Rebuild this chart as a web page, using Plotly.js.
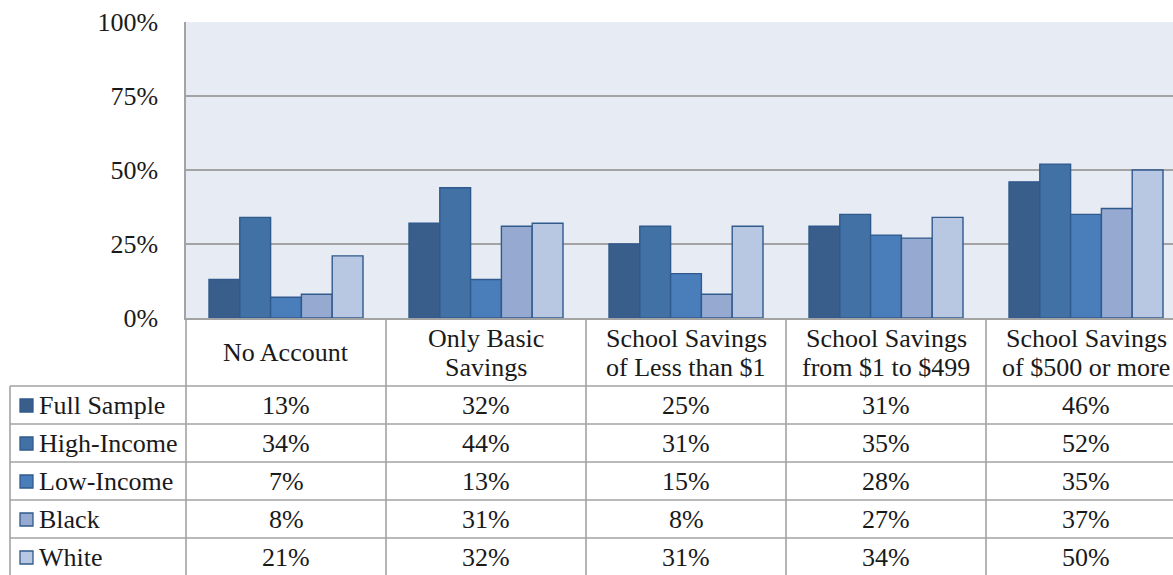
<!DOCTYPE html>
<html>
<head>
<meta charset="utf-8">
<script src="https://cdn.plot.ly/plotly-3.0.1.min.js"></script>
<style>
html,body{margin:0;padding:0;overflow:hidden;background:#fff;}
#chart{width:1190px;height:575px;}
</style>
</head>
<body>
<div id="chart"></div>
<script>
// ---- data ----
const categories = ["No Account", "Only Basic<br>Savings", "School Savings<br>of Less than $1", "School Savings<br>from $1 to $499", "School Savings<br>of $500 or more"];
const seriesNames = ["Full Sample", "High-Income", "Low-Income", "Black", "White"];
const fullSample = [13, 32, 25, 31, 46];
const highIncome = [34, 44, 31, 35, 52];
const lowIncome  = [7, 13, 15, 28, 35];
const black      = [8, 31, 8, 27, 37];
const white      = [21, 32, 31, 34, 50];
const yTicks = [0, 25, 50, 75, 100];
const yTickLabels = ["0%", "25%", "50%", "75%", "100%"];

const seriesValues = [fullSample, highIncome, lowIncome, black, white];
const colors = ["#3A5E8C", "#4271A6", "#4A7EBB", "#95A9D1", "#B9C8E2"];
const outline = "#30598C";
const FONT = "Liberation Serif";
const FS = 26;
const TXT = "#1a1a1a";

// geometry (pixels)
const W = 1190, H = 575, L = 186, R = 1186, T = 22, B = 318;
const px2x = p => (p - L) / (R - L);
const py2y = p => (B - p) / (B - T);

const xs = categories.map((_, i) => i);
const traces = seriesNames.map((n, k) => ({
  type: "bar", name: n, x: xs, y: seriesValues[k],
  marker: {color: colors[k], line: {color: outline, width: 1.4}},
  hoverinfo: "skip"
}));

const shapes = [];
const annotations = [];
const grid = "#A3A3A3";
function hline(y, x0, x1) { shapes.push({type:"line", xref:"paper", yref:"paper", x0:px2x(x0), x1:px2x(x1), y0:py2y(y), y1:py2y(y), line:{color:grid, width:1.6}}); }
function vline(x, y0, y1) { shapes.push({type:"line", xref:"paper", yref:"paper", x0:px2x(x), x1:px2x(x), y0:py2y(y0), y1:py2y(y1), line:{color:grid, width:1.6}}); }

// table horizontal lines
const rowTops = [386, 424, 462, 500, 538, 576];
rowTops.forEach(y => hline(y, 10, 1190));
// vertical lines
vline(10, 386, 580);
vline(186, 318, 580);
categories.forEach((_, i) => { if (i > 0) { const xp = L + i * (R - L) / categories.length; vline(xp, 318, 580); } });

function txt(xref, x, yPx, s, anchor) {
  annotations.push({xref:xref, yref:"paper", x:x, y:py2y(yPx), text:s, showarrow:false,
    font:{family:FONT, size:FS, color:TXT}, xanchor:anchor || "center", yanchor:"middle"});
}

// header text
categories.forEach((c, i) => {
  const lines = c.split("<br>");
  if (lines.length === 1) txt("x", i, 352, lines[0]);
  else { txt("x", i, 338, lines[0]); txt("x", i, 367, lines[1]); }
});
// data rows
seriesNames.forEach((n, k) => {
  const yc = (rowTops[k] + rowTops[k+1]) / 2;
  shapes.push({type:"rect", xref:"paper", yref:"paper", x0:px2x(20), x1:px2x(33), y0:py2y(yc-6), y1:py2y(yc+7),
    fillcolor:colors[k], line:{color:outline, width:1.3}});
  txt("paper", px2x(37), yc, n, "left");
  seriesValues[k].forEach((v, i) => txt("x", i, yc, v + "%"));
});

const layout = {
  width: W, height: H,
  margin: {l: L, r: W - R, t: T, b: H - B},
  paper_bgcolor: "#ffffff", plot_bgcolor: "#E7ECF4",
  barmode: "group", bargap: 0.23, bargroupgap: 0,
  showlegend: false,
  font: {family: FONT, size: FS, color: TXT},
  xaxis: {range: [-0.5, 4.5], showticklabels: false, ticks: "", showgrid: false, zeroline: false,
    showline: true, linecolor: grid, linewidth: 1.6, mirror: false, fixedrange: true},
  yaxis: {range: [0, 100], tickvals: yTicks, ticktext: yTickLabels, showgrid: true, gridcolor: grid, gridwidth: 1.6,
    zeroline: false, showline: true, linecolor: grid, linewidth: 1.6, ticks: "", ticklabelstandoff: 21,
    tickfont: {family: FONT, size: FS, color: TXT}, fixedrange: true},
  shapes: shapes, annotations: annotations
};

Plotly.newPlot("chart", traces, layout, {displayModeBar: false, staticPlot: true});
</script>
</body>
</html>
